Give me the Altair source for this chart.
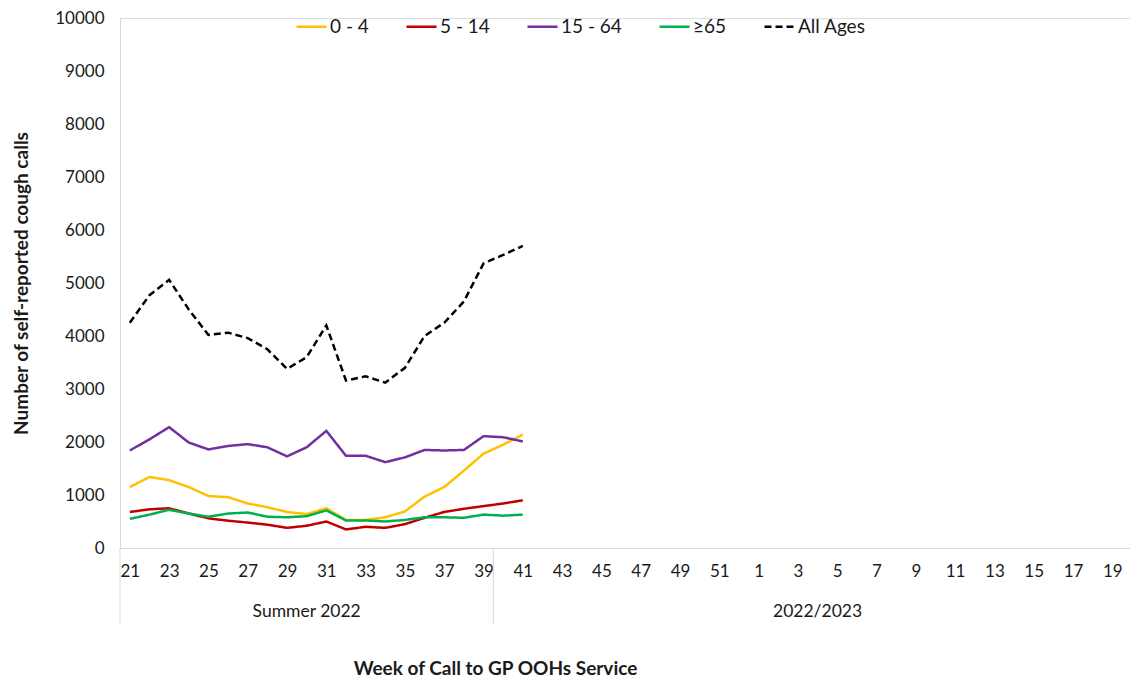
import json
import altair as alt
import pandas as pd

# ---- data -------------------------------------------------------------
weeks = [str(w) for w in list(range(21, 53)) + list(range(1, 21))]
groups = ["Summer 2022", "2022/2023"]
group_sizes = [19, 33]

series_names = ["0 - 4", "5 - 14", "15 - 64", "≥65", "All Ages"]
series_colors = ["#FFC000", "#C00000", "#7030A0", "#00B050", "#000000"]

age_0_4 = [1150, 1340, 1280, 1150, 980, 960, 840, 770, 680, 640, 750,
           530, 530, 580, 690, 970, 1150, 1460, 1780, 1950, 2140]
age_5_14 = [680, 730, 750, 650, 560, 515, 480, 440, 380, 420, 500,
            350, 400, 380, 450, 570, 680, 740, 790, 840, 900]
age_15_64 = [1840, 2050, 2280, 1990, 1860, 1925, 1960, 1900, 1730, 1900, 2210,
             1740, 1740, 1620, 1710, 1850, 1840, 1850, 2110, 2090, 2010]
age_65 = [550, 630, 720, 650, 590, 650, 670, 590, 580, 600, 710,
          520, 520, 500, 530, 580, 580, 570, 630, 610, 630]
all_ages = [4250, 4770, 5060, 4500, 4020, 4063, 3960, 3750, 3380, 3600, 4200,
            3160, 3240, 3120, 3400, 4000, 4250, 4650, 5370, 5530, 5700]

y_ticks = list(range(0, 10001, 1000))

# ---- tables -----------------------------------------------------------
rows = []
for name, vals in zip(series_names, [age_0_4, age_5_14, age_15_64, age_65, all_ages]):
    for i, v in enumerate(vals):
        rows.append({"idx": i, "series": name, "value": v})
df = pd.DataFrame(rows)

bounds = [-0.5]
for s in group_sizes:
    bounds.append(bounds[-1] + s)
sep_df = pd.DataFrame({"b": bounds[:-1]})
grp_df = pd.DataFrame({
    "group": groups,
    "mid": [(bounds[i] + bounds[i + 1]) / 2 for i in range(len(groups))],
})

W, H = 1010, 530
FONT = "Lato"
TXT = "#1a1a1a"

# the reference's category axis runs past the right edge of the picture
x_scale = alt.Scale(domain=[-0.5, 50.9], nice=False, zero=False)
label_expr = json.dumps(weeks) + "[datum.value]"

leg = dict(title=None, orient="none", legendX=175, legendY=-8,
           direction="horizontal", symbolType="stroke",
           symbolSize=900, symbolStrokeWidth=2.5, labelOffset=2,
           columnPadding=32, labelFont=FONT, labelFontSize=19,
           labelColor=TXT, padding=0)

lines = alt.Chart(df).mark_line(strokeWidth=2.5).encode(
    x=alt.X("idx:Q", scale=x_scale,
            axis=alt.Axis(values=list(range(0, len(weeks), 2)), labelExpr=label_expr,
                          title="Week of Call to GP OOHs Service",
                          titleX=375, titleY=120, titleBaseline="middle", titleAlign="center",
                          titleFontSize=19, titleFontWeight="bold", titleFont=FONT, titleColor=TXT,
                          labelFont=FONT, labelFontSize=17, labelColor=TXT, labelPadding=15,
                          ticks=False, grid=False, domainColor="#d9d9d9", labelFlush=False)),
    y=alt.Y("value:Q", scale=alt.Scale(domain=[0, 10000], nice=False),
            axis=alt.Axis(values=y_ticks, format="d", title="Number of self-reported cough calls",
                          titleX=-99, titleY=H / 2, titleAlign="center", titleBaseline="middle",
                          titleAngle=270,
                          titleFontSize=19, titleFontWeight="bold", titleFont=FONT, titleColor=TXT,
                          labelFont=FONT, labelFontSize=17, labelColor=TXT, labelPadding=16,
                          ticks=False, grid=False, domainColor="#d9d9d9")),
    color=alt.Color("series:N", scale=alt.Scale(domain=series_names, range=series_colors),
                    sort=series_names, legend=alt.Legend(**leg)),
    strokeDash=alt.StrokeDash("series:N", sort=series_names,
                              scale=alt.Scale(domain=series_names,
                                              range=[[1, 0], [1, 0], [1, 0], [1, 0], [7, 4]]),
                              legend=alt.Legend(**leg)),
    order=alt.Order("idx:Q"),
)

seps = alt.Chart(sep_df).mark_rule(color="#d9d9d9", strokeWidth=1).encode(
    x=alt.X("b:Q", scale=x_scale),
    y=alt.value(H),
    y2=alt.value(H + 76),
)

grp_text = alt.Chart(grp_df).mark_text(font=FONT, fontSize=17.5, color=TXT,
                                        baseline="middle").encode(
    x=alt.X("mid:Q", scale=x_scale),
    y=alt.value(H + 64),
    text="group:N",
)

chart = alt.layer(lines, seps, grp_text).properties(
    width=W, height=H,
    autosize=alt.AutoSizeParams(type="none"),
    padding={"left": 112, "top": 10, "right": 0, "bottom": 130},
).configure_view(stroke=None).configure(background="white")

chart.save("out.html", embed_options={"renderer": "svg", "actions": False})
